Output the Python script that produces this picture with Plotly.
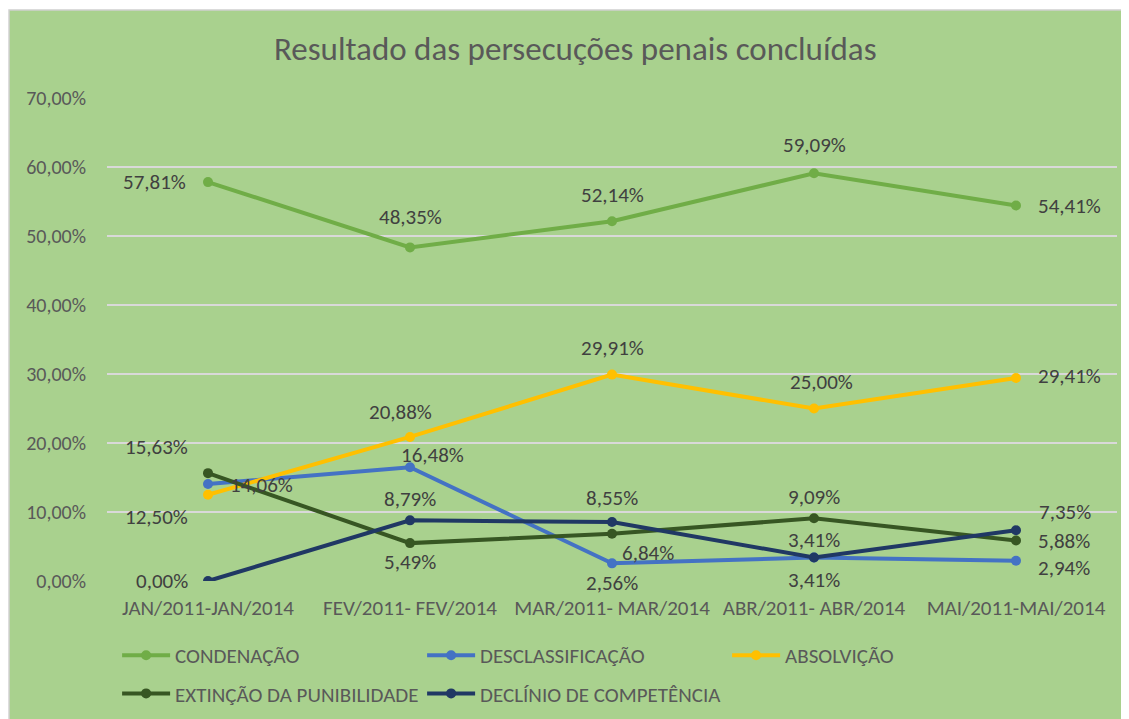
import plotly.graph_objects as go

categories = ["JAN/2011-JAN/2014", "FEV/2011- FEV/2014", "MAR/2011- MAR/2014",
              "ABR/2011- ABR/2014", "MAI/2011-MAI/2014"]
condenacao = [57.81, 48.35, 52.14, 59.09, 54.41]
desclassificacao = [14.06, 16.48, 2.56, 3.41, 2.94]
absolvicao = [12.50, 20.88, 29.91, 25.00, 29.41]
extincao = [15.63, 5.49, 6.84, 9.09, 5.88]
declinio = [0.00, 8.79, 8.55, 3.41, 7.35]

series = [
    ("CONDENAÇÃO", condenacao, "#70AD47", "legend"),
    ("DESCLASSIFICAÇÃO", desclassificacao, "#4472C4", "legend"),
    ("ABSOLVIÇÃO", absolvicao, "#FFC000", "legend"),
    ("EXTINÇÃO DA PUNIBILIDADE", extincao, "#375623", "legend2"),
    ("DECLÍNIO DE COMPETÊNCIA", declinio, "#203864", "legend2"),
]

# label placement (xanchor, xshift, yshift) per point, per series
label_pos = {
    "CONDENAÇÃO": [("right", -20, 0), ("center", 0, 30), ("center", 0, 26), ("center", 0, 28), ("left", 20, 0)],
    "DESCLASSIFICAÇÃO": [("left", 20, -1), ("center", 22, 12), ("center", 0, -20), ("center", 0, -23), ("left", 20, -7)],
    "ABSOLVIÇÃO": [("right", -18, -22), ("center", -10, 25), ("center", 0, 27), ("center", 7, 27), ("left", 20, 2)],
    "EXTINÇÃO DA PUNIBILIDADE": [("right", -18, 26), ("center", 0, -19), ("center", 36, -19), ("center", 0, 21), ("left", 20, -1)],
    "DECLÍNIO DE COMPETÊNCIA": [("right", -18, 0), ("center", 0, 21), ("center", 0, 24), ("center", 0, 17), ("left", 21, 18)],
}

FONT = "Carlito, Lato, 'Liberation Sans', sans-serif"
TXT = "#595959"

fig = go.Figure()
annotations = []
for name, vals, color, leg in series:
    fig.add_trace(go.Scatter(
        x=categories, y=vals, name=name, mode="lines+markers",
        line=dict(color=color, width=4),
        marker=dict(color=color, size=10),
        legend=leg,
    ))
    for cat, v, (xa, xs, ys) in zip(categories, vals, label_pos[name]):
        annotations.append(dict(
            x=cat, y=v, xref="x", yref="y",
            text=f"{v:.2f}%".replace(".", ","),
            showarrow=False, xanchor=xa, yanchor="middle",
            xshift=xs, yshift=ys,
            font=dict(family=FONT, size=21, color="#404040"),
        ))

legend_common = dict(orientation="h", xanchor="left", yanchor="top",
                     entrywidth=242, entrywidthmode="pixels", itemwidth=48,
                     font=dict(family=FONT, size=21, color=TXT),
                     bgcolor="rgba(0,0,0,0)")

fig.update_layout(
    width=1121, height=711,
    paper_bgcolor="white",
    plot_bgcolor="rgba(0,0,0,0)",
    margin=dict(l=99, r=12, t=90, b=138, autoexpand=False),
    separators=",.",
    title=dict(text="Resultado das persecuções penais concluídas",
               xref="container", x=0.506, xanchor="center", y=0.943, yanchor="middle",
               font=dict(family=FONT, size=33, color=TXT)),
    xaxis=dict(type="category", range=[-0.5, 4.5], showgrid=False, zeroline=False,
               showline=False, ticks="", ticklabelstandoff=12,
               tickfont=dict(family=FONT, size=21, color=TXT)),
    yaxis=dict(range=[0, 70], dtick=10, tickformat=".2f", ticksuffix="%",
               showgrid=True, gridcolor="#D9D9D9", gridwidth=2, zeroline=False,
               showline=False, ticks="", ticklabelstandoff=20,
               tickfont=dict(family=FONT, size=20, color=TXT)),
    legend=dict(x=0.010, y=-0.112, **legend_common),
    legend2=dict(x=0.010, y=-0.191, **legend_common),
    annotations=annotations,
    shapes=[dict(type="rect", xref="paper", yref="paper", layer="below",
                 x0=-0.097, x1=1.02, y0=-0.3, y1=1.182,
                 fillcolor="#A9D18E", line=dict(color="#D0D0D0", width=1.5))],
)

fig.write_html("out.html")
